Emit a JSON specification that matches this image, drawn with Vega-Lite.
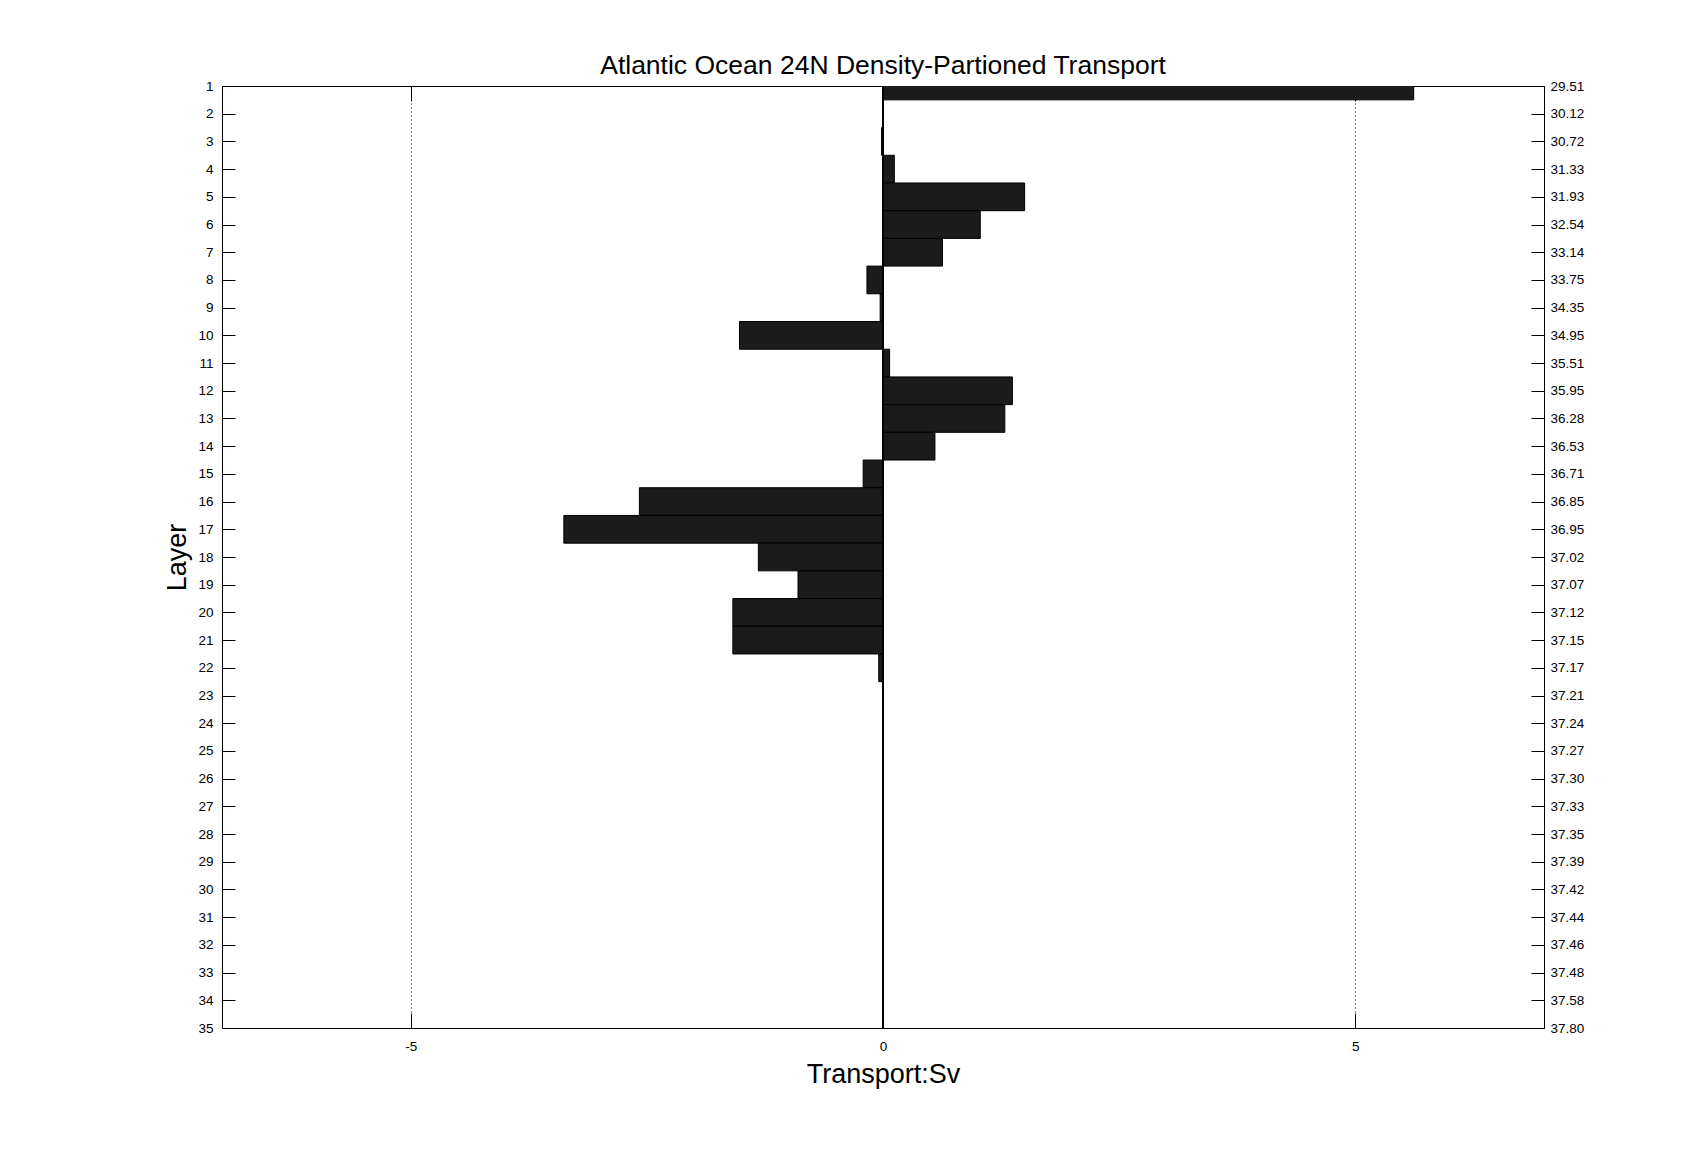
{
  "$schema": "https://vega.github.io/schema/vega-lite/v6.json",
  "width": 1322,
  "height": 942,
  "autosize": "none",
  "padding": {"left": 222, "top": 86, "right": 163, "bottom": 127},
  "background": "white",
  "config": {
    "font": "Liberation Sans",
    "view": {"stroke": "black", "strokeWidth": 1},
    "axis": {
      "domainColor": "black",
      "tickColor": "black",
      "labelColor": "black",
      "titleColor": "black",
      "labelFontSize": 13.5,
      "labelFont": "Liberation Sans",
      "titleFont": "Liberation Sans",
      "titleFontSize": 27,
      "titleFontWeight": "normal",
      "grid": false
    }
  },
  "title": {
    "text": "Atlantic Ocean 24N Density-Partioned Transport",
    "fontSize": 26.5,
    "fontWeight": "normal",
    "color": "black",
    "font": "Liberation Sans",
    "anchor": "middle",
    "offset": 0
  },
  "data": {
    "values": [
      {"layer": 1, "transport": 5.62, "density": "29.51"},
      {"layer": 2, "transport": 0.0, "density": "30.12"},
      {"layer": 3, "transport": -0.015, "density": "30.72"},
      {"layer": 4, "transport": 0.12, "density": "31.33"},
      {"layer": 5, "transport": 1.5, "density": "31.93"},
      {"layer": 6, "transport": 1.03, "density": "32.54"},
      {"layer": 7, "transport": 0.63, "density": "33.14"},
      {"layer": 8, "transport": -0.17, "density": "33.75"},
      {"layer": 9, "transport": -0.03, "density": "34.35"},
      {"layer": 10, "transport": -1.52, "density": "34.95"},
      {"layer": 11, "transport": 0.07, "density": "35.51"},
      {"layer": 12, "transport": 1.37, "density": "35.95"},
      {"layer": 13, "transport": 1.29, "density": "36.28"},
      {"layer": 14, "transport": 0.55, "density": "36.53"},
      {"layer": 15, "transport": -0.21, "density": "36.71"},
      {"layer": 16, "transport": -2.58, "density": "36.85"},
      {"layer": 17, "transport": -3.38, "density": "36.95"},
      {"layer": 18, "transport": -1.32, "density": "37.02"},
      {"layer": 19, "transport": -0.9, "density": "37.07"},
      {"layer": 20, "transport": -1.59, "density": "37.12"},
      {"layer": 21, "transport": -1.59, "density": "37.15"},
      {"layer": 22, "transport": -0.045, "density": "37.17"},
      {"layer": 23, "transport": 0.0, "density": "37.21"},
      {"layer": 24, "transport": 0.0, "density": "37.24"},
      {"layer": 25, "transport": 0.0, "density": "37.27"},
      {"layer": 26, "transport": 0.0, "density": "37.30"},
      {"layer": 27, "transport": 0.0, "density": "37.33"},
      {"layer": 28, "transport": 0.0, "density": "37.35"},
      {"layer": 29, "transport": 0.0, "density": "37.39"},
      {"layer": 30, "transport": 0.0, "density": "37.42"},
      {"layer": 31, "transport": 0.0, "density": "37.44"},
      {"layer": 32, "transport": 0.0, "density": "37.46"},
      {"layer": 33, "transport": 0.0, "density": "37.48"},
      {"layer": 34, "transport": 0.0, "density": "37.58"},
      {"layer": 35, "transport": 0.0, "density": "37.80"}
    ]
  },
  "layer": [
    {
      "mark": {"type": "bar", "orient": "horizontal", "height": 27.7, "fill": "#1b1b1b", "stroke": "black", "strokeWidth": 1, "clip": true},
      "encoding": {
        "y": {
          "field": "layer",
          "type": "quantitative",
          "scale": {"domain": [1, 35], "nice": false, "zero": false, "reverse": true, "padding": 0},
          "axis": {
            "orient": "left",
            "title": "Layer",
            "values": [1,2,3,4,5,6,7,8,9,10,11,12,13,14,15,16,17,18,19,20,21,22,23,24,25,26,27,28,29,30,31,32,33,34,35],
            "tickSize": -13,
            "labelPadding": 22,
            "titlePadding": 6,
            "labelFlush": false,
            "labelOverlap": false
          }
        },
        "x": {
          "field": "transport",
          "type": "quantitative",
          "scale": {"domain": [-7, 7], "nice": false, "padding": 0},
          "axis": {
            "orient": "bottom",
            "title": "Transport:Sv",
            "values": [-5, 0, 5],
            "labelExpr": "'' + datum.value",
            "tickSize": -15,
            "labelPadding": 26,
            "titlePadding": 9,
            "grid": true,
            "gridColor": "black",
            "gridDash": [1, 3],
            "gridOpacity": 1,
            "labelFlush": false
          }
        },
        "x2": {"datum": 0}
      }
    },
    {
      "mark": {"type": "rule", "color": "black", "strokeWidth": 1},
      "encoding": {"x": {"datum": 0, "type": "quantitative", "axis": null}}
    },
    {
      "mark": {"type": "point", "opacity": 0},
      "encoding": {
        "y": {
          "field": "density",
          "type": "ordinal",
          "sort": {"field": "layer"},
          "scale": {"type": "point", "padding": 0},
          "axis": {
            "orient": "right",
            "title": null,
            "tickSize": -13,
            "labelPadding": 19,
            "labelOverlap": false
          }
        },
        "x": {
          "field": "transport",
          "type": "quantitative",
          "axis": {
            "orient": "top",
            "title": null,
            "values": [-5, 0, 5],
            "labels": false,
            "tickSize": -15,
            "grid": false
          }
        }
      }
    }
  ],
  "resolve": {"scale": {"y": "independent"}, "axis": {"x": "independent"}}
}
